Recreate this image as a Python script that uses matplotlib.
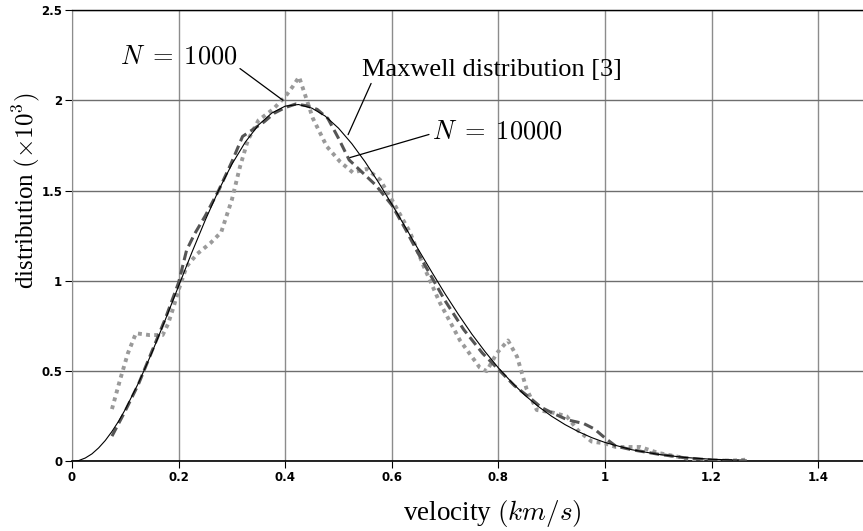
import matplotlib
matplotlib.use("Agg")
import matplotlib.pyplot as plt

# data
v_maxwell = [0.0, 0.0125, 0.025, 0.0375, 0.05, 0.0625, 0.075, 0.0875, 0.1, 0.125, 0.15, 0.175,
             0.2, 0.225, 0.25, 0.275, 0.3, 0.325, 0.35, 0.375, 0.4, 0.425, 0.45, 0.475, 0.5,
             0.525, 0.55, 0.575, 0.6, 0.625, 0.65, 0.675, 0.7, 0.725, 0.75, 0.775, 0.8,
             0.825, 0.85, 0.875, 0.9, 0.925, 0.95, 0.975, 1.0, 1.05, 1.1, 1.15, 1.2, 1.25]
f_maxwell = [0.0, 0.0048, 0.019, 0.042, 0.075, 0.116, 0.166, 0.223, 0.288, 0.436, 0.603, 0.784,
             0.971, 1.158, 1.336, 1.501, 1.646, 1.768, 1.864, 1.930, 1.968, 1.977, 1.957,
             1.913, 1.846, 1.760, 1.659, 1.546, 1.425, 1.300, 1.173, 1.049, 0.928, 0.814,
             0.706, 0.608, 0.518, 0.438, 0.366, 0.304, 0.250, 0.204, 0.165, 0.132, 0.105,
             0.065, 0.039, 0.022, 0.012, 0.007]

v_1000 = [0.075, 0.09, 0.105, 0.12, 0.145, 0.17, 0.18, 0.19, 0.2, 0.215, 0.235, 0.26, 0.28,
          0.3, 0.315, 0.33, 0.35, 0.377, 0.40, 0.415, 0.426, 0.434, 0.452, 0.478, 0.503,
          0.527, 0.553, 0.578, 0.60, 0.634, 0.66, 0.69, 0.728, 0.765, 0.778, 0.797, 0.818,
          0.835, 0.853, 0.872, 0.903, 0.928, 0.95, 0.975, 1.0, 1.02, 1.066, 1.10, 1.165,
          1.21, 1.24, 1.266]
f_1000 = [0.29, 0.45, 0.6, 0.71, 0.70, 0.70, 0.76, 0.85, 0.95, 1.08, 1.15, 1.21, 1.27,
          1.45, 1.63, 1.78, 1.89, 1.95, 2.02, 2.08, 2.13, 2.06, 1.90, 1.745, 1.66,
          1.60, 1.62, 1.56, 1.45, 1.27, 1.08, 0.88, 0.67, 0.52, 0.50, 0.60, 0.67,
          0.58, 0.40, 0.285, 0.27, 0.25, 0.17, 0.11, 0.10, 0.08, 0.08, 0.047, 0.01,
          0.003, 0.005, 0.01]

v_10000 = [0.075, 0.1, 0.125, 0.15, 0.175, 0.2, 0.215, 0.23, 0.25, 0.275, 0.3, 0.32, 0.34,
           0.36, 0.38, 0.40, 0.42, 0.44, 0.46, 0.48, 0.50, 0.52, 0.545, 0.57, 0.6, 0.625,
           0.65, 0.675, 0.7, 0.735, 0.77, 0.8, 0.83, 0.86, 0.88, 0.9, 0.93, 0.96, 0.98,
           1.0, 1.02, 1.05, 1.1, 1.15, 1.2, 1.25, 1.27]
f_10000 = [0.14, 0.28, 0.43, 0.61, 0.79, 0.99, 1.17, 1.26, 1.36, 1.50, 1.66, 1.80, 1.84,
           1.88, 1.93, 1.96, 1.98, 1.97, 1.95, 1.90, 1.79, 1.67, 1.60, 1.53, 1.42, 1.29,
           1.15, 1.02, 0.89, 0.73, 0.60, 0.51, 0.42, 0.35, 0.30, 0.27, 0.23, 0.21, 0.18,
           0.13, 0.085, 0.065, 0.04, 0.02, 0.008, 0.004, 0.003]

x_ticks = [0, 0.2, 0.4, 0.6, 0.8, 1.0, 1.2, 1.4]
x_labels = ["0", "0.2", "0.4", "0.6", "0.8", "1", "1.2", "1.4"]
y_ticks = [0, 0.5, 1.0, 1.5, 2.0, 2.5]
y_labels = ["0", "0.5", "1", "1.5", "2", "2.5"]

fig = plt.figure(figsize=(8.63, 5.31), dpi=100)
ax = fig.add_axes([0.0834, 0.131, 0.9166, 0.850])

ax.plot(v_1000, f_1000, color="#9a9a9a", lw=2.8, dashes=(1, 1.1), dash_capstyle="butt", zorder=3)
ax.plot(v_10000, f_10000, color="#555555", lw=2.2, dashes=(3.2, 1.6), zorder=4)
ax.plot(v_maxwell, f_maxwell, color="black", lw=0.8, zorder=5)

ax.set_xlim(0, 1.484)
ax.set_ylim(0, 2.5)
ax.set_xticks(x_ticks)
ax.set_xticklabels(x_labels)
ax.set_yticks(y_ticks)
ax.set_yticklabels(y_labels)
ax.tick_params(direction="out", length=5, width=0.8, pad=2, labelsize=8.5)
for lab in ax.get_xticklabels() + ax.get_yticklabels():
    lab.set_fontweight("bold")

ax.grid(axis="x", color="#8c8c8c", lw=1.0)
ax.grid(axis="y", color="#6e6e6e", lw=1.0)
ax.set_axisbelow(True)
ax.spines["right"].set_visible(False)
ax.spines["left"].set_color("#8c8c8c")
ax.spines["bottom"].set_color("black")
ax.spines["bottom"].set_linewidth(1.2)
ax.spines["top"].set_color("black")
ax.spines["top"].set_linewidth(1.0)

ax.set_xlabel(r"velocity $(km/s)$", family="Liberation Serif", fontsize=19.5,
              math_fontfamily="cm", va="center")
ax.set_ylabel(r"distribution $(\times 10^3)$", family="Liberation Serif", fontsize=18,
              math_fontfamily="cm", va="center")
ax.xaxis.set_label_coords(0.532, -0.116)
ax.yaxis.set_label_coords(-0.058, 0.599)

ax.annotate(r"$N\;=\;1000$", xy=(0.396, 2.0), xytext=(0.31, 2.245),
            textcoords="data", ha="right", va="center", fontsize=19, math_fontfamily="cm",
            arrowprops=dict(arrowstyle="-", color="black", lw=0.9, shrinkA=0, shrinkB=0,
                            relpos=(1.0, 0.1)))
ax.annotate("Maxwell distribution [3]", xy=(0.518, 1.81), xytext=(0.544, 2.17),
            ha="left", va="center", fontsize=19, family="Liberation Serif",
            arrowprops=dict(arrowstyle="-", color="black", lw=0.9, shrinkA=0, shrinkB=0,
                            relpos=(0.04, 0.0)))
ax.annotate(r"$N\;=\;10000$", xy=(0.518, 1.68), xytext=(0.675, 1.83),
            ha="left", va="center", fontsize=19, math_fontfamily="cm",
            arrowprops=dict(arrowstyle="-", color="black", lw=0.9, shrinkA=0, shrinkB=0,
                            relpos=(0.0, 0.4)))

fig.savefig("out.png", dpi=100)
